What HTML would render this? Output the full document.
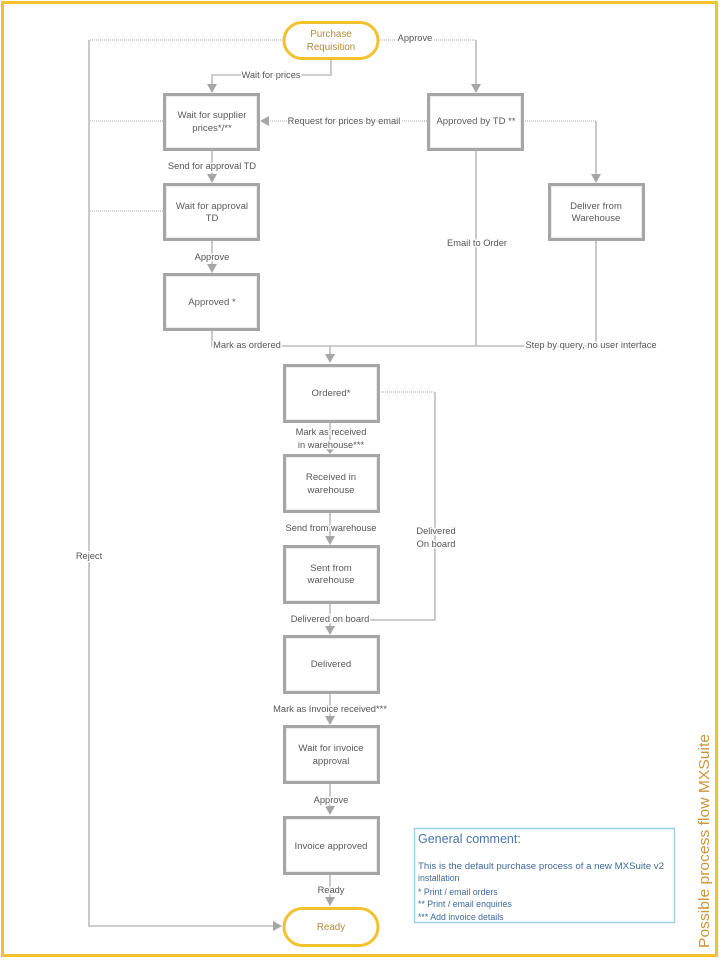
<!DOCTYPE html>
<html>
<head>
<meta charset="utf-8">
<style>
  html, body { margin: 0; padding: 0; background: #ffffff; }
  svg { display: block; }
  .node { font-family: "Liberation Sans", sans-serif; font-size: 9.6px; fill: #5a5a5a; text-anchor: middle; }
  .lbl { font-family: "Liberation Sans", sans-serif; font-size: 9.3px; fill: #555555; text-anchor: middle; paint-order: stroke; stroke: #ffffff; stroke-width: 3px; stroke-linejoin: round; }
  .pill { font-family: "Liberation Sans", sans-serif; font-size: 9.8px; fill: #b58a3c; text-anchor: middle; }
  .cm { font-family: "Liberation Sans", sans-serif; font-size: 8.8px; fill: #3d6a9c; }
</style>
</head>
<body>
<svg width="722" height="960" viewBox="0 0 722 960" xmlns="http://www.w3.org/2000/svg">
  <!-- outer border -->
  <rect x="2.5" y="2.5" width="714" height="953" fill="#ffffff" stroke="#f2c12e" stroke-width="3"/>

  <!-- ===== connectors ===== -->
  <g fill="none" stroke-linecap="butt">
    <!-- Reject line -->
    <path d="M283 40 H89" stroke="#a8a8a8" stroke-width="1" stroke-dasharray="1 1"/>
    <path d="M89 40 V926 H274" stroke="#bdbdbd" stroke-width="1.6"/>
    <path d="M163 121 H89" stroke="#a8a8a8" stroke-width="1" stroke-dasharray="1 1"/>
    <path d="M163 211 H89" stroke="#a8a8a8" stroke-width="1" stroke-dasharray="1 1"/>

    <!-- Wait for prices -->
    <path d="M331 60 V75 H212 V85" stroke="#bdbdbd" stroke-width="1.6"/>
    <!-- Approve (top right) -->
    <path d="M378 40 H476" stroke="#a8a8a8" stroke-width="1" stroke-dasharray="1 1"/>
    <path d="M476 40 V85" stroke="#bdbdbd" stroke-width="1.6"/>
    <!-- Request for prices by email -->
    <path d="M427 121 H268" stroke="#a8a8a8" stroke-width="1" stroke-dasharray="1 1"/>
    <!-- Approved by TD -> Deliver -->
    <path d="M523 121 H596" stroke="#a8a8a8" stroke-width="1" stroke-dasharray="1 1"/>
    <path d="M596 121 V175" stroke="#bdbdbd" stroke-width="1.6"/>
    <!-- Email to order -->
    <path d="M476 151 V346" stroke="#bdbdbd" stroke-width="1.6"/>
    <!-- Deliver bottom -->
    <path d="M596 240 V346" stroke="#bdbdbd" stroke-width="1.6"/>
    <!-- merge line -->
    <path d="M212 331 V346 H596" stroke="#bdbdbd" stroke-width="1.6"/>
    <path d="M330 346 V355" stroke="#bdbdbd" stroke-width="1.6"/>

    <!-- left column verticals -->
    <path d="M212 151 V175" stroke="#bdbdbd" stroke-width="1.6"/>
    <path d="M212 241 V265" stroke="#bdbdbd" stroke-width="1.6"/>

    <!-- main column verticals -->
    <path d="M330 422 V447" stroke="#bdbdbd" stroke-width="1.6"/>
    <path d="M330 512 V537" stroke="#bdbdbd" stroke-width="1.6"/>
    <path d="M330 603 V627" stroke="#bdbdbd" stroke-width="1.6"/>
    <path d="M330 693 V717" stroke="#bdbdbd" stroke-width="1.6"/>
    <path d="M330 783 V807" stroke="#bdbdbd" stroke-width="1.6"/>
    <path d="M330 874 V898" stroke="#bdbdbd" stroke-width="1.6"/>

    <!-- Ordered -> Delivered on board -->
    <path d="M379 392 H435" stroke="#a8a8a8" stroke-width="1" stroke-dasharray="1 1"/>
    <path d="M435 392 V620 H330" stroke="#bdbdbd" stroke-width="1.6"/>
  </g>

  <!-- ===== arrowheads ===== -->
  <g fill="#a6a6a6">
    <polygon points="207,84 217,84 212,93"/>
    <polygon points="471,84 481,84 476,93"/>
    <polygon points="269,116 269,126 260,121"/>
    <polygon points="591,174 601,174 596,183"/>
    <polygon points="207,174 217,174 212,183"/>
    <polygon points="207,264 217,264 212,273"/>
    <polygon points="325,354 335,354 330,363"/>
    <polygon points="326,449 334,449 330,454"/>
    <polygon points="325,536 335,536 330,545"/>
    <polygon points="325,626 335,626 330,635"/>
    <polygon points="325,716 335,716 330,725"/>
    <polygon points="325,806 335,806 330,815"/>
    <polygon points="325,897 335,897 330,906"/>
    <polygon points="273,921 273,931 282,926"/>
  </g>

  <!-- ===== boxes ===== -->
  <g fill="#ffffff" stroke="#a6a6a6" stroke-width="3">
    <rect x="164.5" y="94.5" width="94" height="55"/>
    <rect x="164.5" y="184.5" width="94" height="55"/>
    <rect x="164.5" y="274.5" width="94" height="55"/>
    <rect x="428.5" y="94.5" width="94" height="55"/>
    <rect x="549.5" y="184.5" width="94" height="55"/>
    <rect x="284.5" y="365.5" width="94" height="56"/>
    <rect x="284.5" y="455.5" width="94" height="56"/>
    <rect x="284.5" y="546.5" width="94" height="56"/>
    <rect x="284.5" y="636.5" width="94" height="56"/>
    <rect x="284.5" y="726.5" width="94" height="56"/>
    <rect x="284.5" y="817.5" width="94" height="56"/>
  </g>
  <!-- inner dotted highlight -->
  <g fill="none" stroke="#d9d9d9" stroke-width="1" stroke-dasharray="1 1">
    <rect x="166.5" y="96.5" width="90" height="51"/>
    <rect x="166.5" y="186.5" width="90" height="51"/>
    <rect x="166.5" y="276.5" width="90" height="51"/>
    <rect x="430.5" y="96.5" width="90" height="51"/>
    <rect x="551.5" y="186.5" width="90" height="51"/>
    <rect x="286.5" y="367.5" width="90" height="52"/>
    <rect x="286.5" y="457.5" width="90" height="52"/>
    <rect x="286.5" y="548.5" width="90" height="52"/>
    <rect x="286.5" y="638.5" width="90" height="52"/>
    <rect x="286.5" y="728.5" width="90" height="52"/>
    <rect x="286.5" y="819.5" width="90" height="52"/>
  </g>

  <!-- pills -->
  <rect x="284" y="22.5" width="94" height="36" rx="18" ry="18" fill="#ffffff" stroke="#f2c12e" stroke-width="3"/>
  <rect x="284" y="908.5" width="94" height="37" rx="18.5" ry="18.5" fill="#ffffff" stroke="#f2c12e" stroke-width="3"/>

  <!-- ===== node text ===== -->
  <text class="pill" x="331" y="37">Purchase</text>
  <text class="pill" x="331" y="50">Requisition</text>
  <text class="pill" x="331" y="930">Ready</text>

  <text class="node" x="212" y="118">Wait for supplier</text>
  <text class="node" x="212" y="131">prices*/**</text>
  <text class="node" x="212" y="209">Wait for approval</text>
  <text class="node" x="212" y="221">TD</text>
  <text class="node" x="212" y="305">Approved *</text>
  <text class="node" x="476" y="124">Approved by TD **</text>
  <text class="node" x="596" y="209">Deliver from</text>
  <text class="node" x="596" y="221">Warehouse</text>
  <text class="node" x="331" y="396">Ordered*</text>
  <text class="node" x="331" y="480">Received in</text>
  <text class="node" x="331" y="493">warehouse</text>
  <text class="node" x="331" y="571">Sent from</text>
  <text class="node" x="331" y="583">warehouse</text>
  <text class="node" x="331" y="667">Delivered</text>
  <text class="node" x="331" y="751">Wait for invoice</text>
  <text class="node" x="331" y="764">approval</text>
  <text class="node" x="331" y="849">Invoice approved</text>

  <!-- ===== connector labels ===== -->
  <text class="lbl" x="271" y="78">Wait for prices</text>
  <text class="lbl" x="415" y="41">Approve</text>
  <text class="lbl" x="344" y="124">Request for prices by email</text>
  <text class="lbl" x="212" y="169">Send for approval TD</text>
  <text class="lbl" x="212" y="260">Approve</text>
  <text class="lbl" x="477" y="246">Email to Order</text>
  <text class="lbl" x="247" y="348">Mark as ordered</text>
  <text class="lbl" x="591" y="348">Step by query, no user interface</text>
  <text class="lbl" x="331" y="435">Mark as received</text>
  <text class="lbl" x="331" y="448">in warehouse***</text>
  <text class="lbl" x="331" y="531">Send from warehouse</text>
  <text class="lbl" x="436" y="534">Delivered</text>
  <text class="lbl" x="436" y="547">On board</text>
  <text class="lbl" x="330" y="622">Delivered on board</text>
  <text class="lbl" x="330" y="712">Mark as Invoice received***</text>
  <text class="lbl" x="331" y="803">Approve</text>
  <text class="lbl" x="331" y="893">Ready</text>
  <text class="lbl" x="89" y="559">Reject</text>

  <!-- ===== general comment ===== -->
  <rect x="414.5" y="828.5" width="260" height="94" fill="#ffffff" stroke="#9fd0ea" stroke-width="1.5"/>
  <text x="418" y="843" font-family="Liberation Sans, sans-serif" font-size="12.5" fill="#4a76a8">General comment:</text>
  <text class="cm" x="418" y="869" textLength="246" lengthAdjust="spacingAndGlyphs">This is the default purchase process of a new MXSuite v2</text>
  <text class="cm" x="418" y="881">installation</text>
  <text class="cm" x="418" y="895">* Print / email orders</text>
  <text class="cm" x="418" y="907">** Print / email enquiries</text>
  <text class="cm" x="418" y="920">*** Add invoice details</text>

  <!-- ===== vertical title ===== -->
  <text transform="translate(709,948) rotate(-90)" font-family="Liberation Sans, sans-serif" font-size="15" fill="#c8963e" textLength="214" lengthAdjust="spacingAndGlyphs">Possible process flow MXSuite</text>
</svg>
</body>
</html>
